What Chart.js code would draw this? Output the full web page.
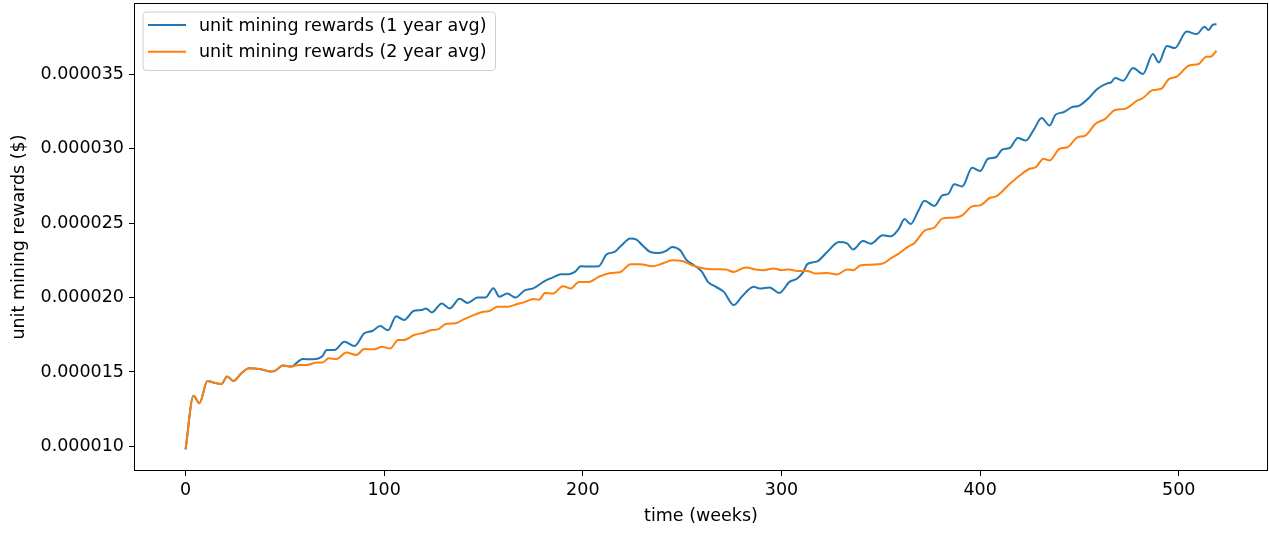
<!DOCTYPE html>
<html>
<head>
<meta charset="utf-8">
<script src="https://cdn.jsdelivr.net/npm/chart.js@4.4.0/dist/chart.umd.min.js"></script>
<style>
  html, body { margin: 0; padding: 0; background: #fff; }
  #wrap { width: 1269px; height: 533px; position: relative; }
</style>
</head>
<body>
<div id="wrap"><canvas id="chart"></canvas></div>
<script>
// Values (rewards in millionths of a dollar)
const weeks1yr = [0, 4, 7, 11, 14, 18, 21, 24, 28, 32, 38, 43, 45, 49, 53, 59, 64, 69, 71, 75,
  80, 85, 90, 94, 98, 102, 106, 110, 115, 119, 121, 124, 129, 133, 138, 142, 147, 151, 155, 158,
  162, 166, 171, 175, 181, 185, 189, 193, 196, 199, 204, 208, 212, 216, 219, 224, 227, 230, 234, 238,
  242, 245, 249, 252, 256, 260, 263, 267, 271, 276, 280, 286, 289, 294, 299, 304, 308, 311, 313, 318,
  323, 329, 333, 336, 341, 345, 351, 355, 359, 362, 365, 369, 372, 377, 381, 384, 387, 391, 396, 400,
  404, 408, 411, 415, 419, 423, 427, 431, 435, 438, 442, 446, 450, 455, 459, 464, 466, 468, 472, 477,
  482, 487, 490, 494, 498, 504, 509, 513, 515, 517, 519];
const rewards1yr = [9.8, 13.4, 12.9, 14.4, 14.3, 14.2, 14.7, 14.4, 14.9, 15.25, 15.18, 15.03, 15.07, 15.43, 15.36, 15.87, 15.85, 16.07, 16.48, 16.48,
  17.03, 16.74, 17.6, 17.75, 18.08, 17.8, 18.75, 18.49, 19.11, 19.16, 19.27, 19.0, 19.6, 19.27, 19.91, 19.64, 20.0, 20.0, 20.63, 20.05,
  20.27, 20.0, 20.5, 20.61, 21.12, 21.35, 21.57, 21.57, 21.72, 22.1, 22.08, 22.1, 22.9, 23.06, 23.44, 23.96, 23.89, 23.51, 23.06, 22.99,
  23.13, 23.4, 23.17, 22.55, 22.17, 21.72, 21.05, 20.72, 20.38, 19.49, 20.05, 20.72, 20.61, 20.68, 20.31, 21.05, 21.28, 21.72, 22.24, 22.43,
  23.06, 23.73, 23.64, 23.23, 23.79, 23.62, 24.18, 24.11, 24.6, 25.27, 24.94, 25.85, 26.5, 26.15, 26.86, 26.97, 27.6, 27.46, 28.71, 28.49,
  29.32, 29.42, 29.92, 30.05, 30.72, 30.54, 31.26, 32.06, 31.55, 32.28, 32.44, 32.77, 32.89, 33.44, 34.0, 34.38, 34.45, 34.74, 34.56, 35.41,
  35.01, 36.35, 35.79, 36.9, 36.75, 37.86, 37.69, 38.18, 37.96, 38.31, 38.36];

const weeks2yr = [0, 4, 7, 11, 14, 18, 21, 24, 28, 32, 38, 43, 45, 49, 53, 57, 61, 66, 69, 72,
  76, 81, 86, 90, 95, 99, 103, 107, 110, 115, 120, 124, 127, 131, 136, 140, 145, 150, 153, 157,
  162, 167, 171, 175, 178, 181, 185, 190, 194, 198, 203, 208, 214, 219, 224, 229, 235, 240, 245, 250,
  255, 261, 267, 272, 276, 282, 287, 291, 296, 300, 304, 308, 313, 317, 323, 328, 333, 336, 340, 344,
  351, 355, 359, 364, 367, 372, 377, 381, 386, 391, 396, 400, 405, 408, 415, 420, 425, 428, 432, 435,
  440, 444, 449, 453, 458, 463, 468, 473, 479, 482, 487, 491, 495, 499, 505, 510, 514, 516, 519];
const rewards2yr = [9.8, 13.4, 12.9, 14.4, 14.3, 14.2, 14.7, 14.4, 14.9, 15.25, 15.18, 15.03, 15.07, 15.43, 15.36, 15.47, 15.47, 15.63, 15.63, 15.92,
  15.87, 16.3, 16.14, 16.54, 16.52, 16.7, 16.57, 17.15, 17.15, 17.48, 17.64, 17.82, 17.86, 18.22, 18.27, 18.53, 18.82, 19.04, 19.09, 19.38,
  19.38, 19.56, 19.71, 19.9, 19.85, 20.31, 20.27, 20.76, 20.61, 21.05, 21.05, 21.39, 21.65, 21.72, 22.24, 22.24, 22.1, 22.28, 22.5, 22.46,
  22.17, 21.95, 21.9, 21.88, 21.72, 22.02, 21.88, 21.84, 21.95, 21.84, 21.88, 21.79, 21.79, 21.61, 21.65, 21.55, 21.88, 21.84, 22.17, 22.2,
  22.28, 22.62, 22.95, 23.44, 23.66, 24.48, 24.7, 25.3, 25.36, 25.52, 26.12, 26.19, 26.7, 26.79, 27.64, 28.2, 28.65, 28.75, 29.32, 29.2,
  29.99, 30.09, 30.76, 30.88, 31.66, 32.0, 32.6, 32.67, 33.22, 33.4, 33.94, 34.0, 34.67, 34.83, 35.57, 35.68, 36.17, 36.17, 36.57];

const xTicks = [0, 100, 200, 300, 400, 500];
const yTicks = [10, 15, 20, 25, 30, 35];
const seriesLabels = ['unit mining rewards (1 year avg)', 'unit mining rewards (2 year avg)'];
const xTitle = 'time (weeks)';
const yTitle = 'unit mining rewards ($)';

Chart.defaults.font.family = "'DejaVu Sans', sans-serif";
Chart.defaults.font.size = 17.5;
Chart.defaults.color = '#000';

// Full frame around the plot area (matplotlib spines)
const framePlugin = {
    id: 'frame',
    afterDraw(chart) {
        const { ctx, chartArea: a } = chart;
        ctx.save();
        ctx.strokeStyle = '#000';
        ctx.lineWidth = 1;
        ctx.strokeRect(a.left + 0.5, a.top + 0.5, a.right - a.left - 1, a.bottom - a.top - 1);
        ctx.restore();
    }
};

// Legend box in the upper left corner
const boxLegendPlugin = {
    id: 'boxLegend',
    afterDraw(chart) {
        const { ctx, chartArea: a } = chart;
        const sets = chart.data.datasets;
        ctx.save();
        ctx.font = "17.5px 'DejaVu Sans', sans-serif";
        const textW = Math.max(...sets.map(d => ctx.measureText(d.label).width));
        const x0 = a.left + 8.5;
        const y0 = a.top + 8.5;
        const w = 56.5 + textW + 8.5;
        const h = 58.5;
        ctx.beginPath();
        if (ctx.roundRect) {
            ctx.roundRect(x0 + 0.5, y0 + 0.5, w, h, 3.5);
        } else {
            ctx.rect(x0 + 0.5, y0 + 0.5, w, h);
        }
        ctx.fillStyle = 'rgba(255,255,255,0.8)';
        ctx.fill();
        ctx.strokeStyle = '#d0d0d0';
        ctx.lineWidth = 1;
        ctx.stroke();
        sets.forEach((d, i) => {
            const y = y0 + 13.5 + i * 26.7;
            ctx.beginPath();
            ctx.moveTo(x0 + 5.5, y);
            ctx.lineTo(x0 + 43.5, y);
            ctx.strokeStyle = d.borderColor;
            ctx.lineWidth = 2;
            ctx.stroke();
            ctx.fillStyle = '#000';
            ctx.textBaseline = 'middle';
            ctx.textAlign = 'left';
            ctx.fillText(d.label, x0 + 56.5, y + 1);
        });
        ctx.restore();
    }
};

function makeSeries(weeks, values) {
    return weeks.map((w, i) => ({ x: w, y: values[i] }));
}

new Chart(document.getElementById('chart'), {
    type: 'line',
    data: {
        datasets: [
            {
                label: seriesLabels[0],
                data: makeSeries(weeks1yr, rewards1yr),
                borderColor: '#1f77b4',
                borderWidth: 2,
                pointRadius: 0,
                fill: false,
                cubicInterpolationMode: 'monotone',
                order: 2
            },
            {
                label: seriesLabels[1],
                data: makeSeries(weeks2yr, rewards2yr),
                borderColor: '#ff7f0e',
                borderWidth: 2,
                pointRadius: 0,
                fill: false,
                cubicInterpolationMode: 'monotone',
                order: 1
            }
        ]
    },
    options: {
        responsive: true,
        maintainAspectRatio: false,
        animation: false,
        layout: { padding: { left: 0, right: 1, top: 3, bottom: 0 } },
        plugins: {
            legend: { display: false },
            tooltip: { enabled: false }
        },
        scales: {
            x: {
                type: 'linear',
                min: -25.95,
                max: 544.95,
                afterBuildTicks: s => { s.ticks = xTicks.map(v => ({ value: v })); },
                afterFit: s => { s.height = 62; s.paddingLeft = 0; s.paddingRight = 0; },
                ticks: { padding: 4, maxRotation: 0, autoSkip: false, callback: v => String(v) },
                grid: { display: true, drawOnChartArea: false, drawTicks: true, tickLength: 5, tickColor: '#000', tickWidth: 1 },
                border: { display: false },
                title: { display: true, text: xTitle, padding: { top: 0, bottom: 6 } }
            },
            y: {
                type: 'linear',
                min: 8.35,
                max: 39.78,
                afterBuildTicks: s => { s.ticks = yTicks.map(v => ({ value: v })); },
                afterFit: s => { s.width = 134; s.paddingTop = 0; s.paddingBottom = 0; },
                ticks: { padding: 5, autoSkip: false, callback: v => (v / 1e6).toFixed(6) },
                grid: { display: true, drawOnChartArea: false, drawTicks: true, tickLength: 5, tickColor: '#000', tickWidth: 1 },
                border: { display: false },
                title: { display: true, text: yTitle, padding: { top: 9, bottom: 0 } }
            }
        }
    },
    plugins: [framePlugin, boxLegendPlugin]
});
</script>
</body>
</html>
